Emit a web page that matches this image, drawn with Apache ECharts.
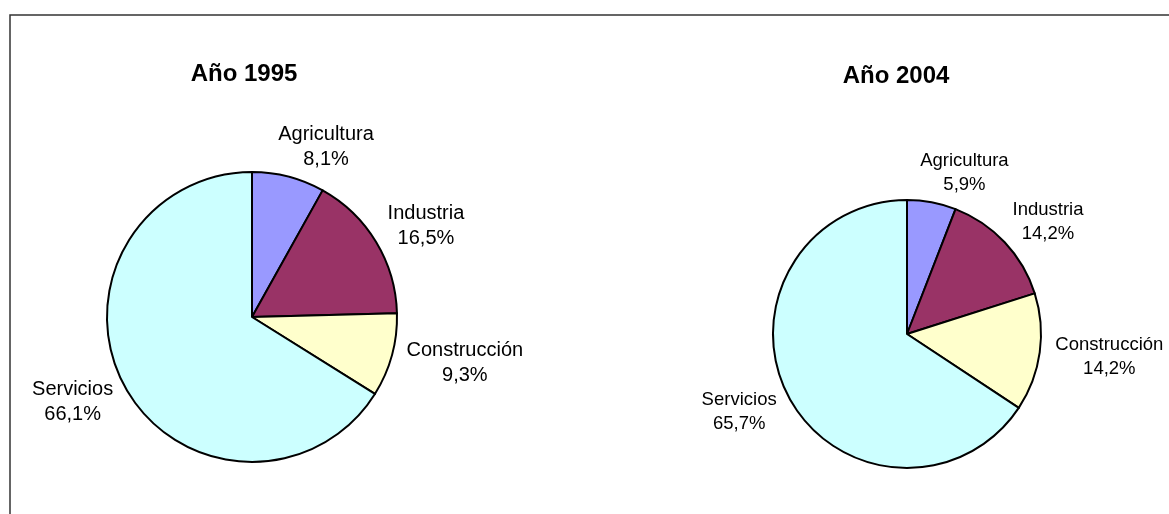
<!DOCTYPE html>
<html>
<head>
<meta charset="utf-8">
<script src="https://cdn.jsdelivr.net/npm/echarts@6/dist/echarts.min.js"></script>
<style>
  html, body { margin: 0; padding: 0; background: #fff; }
  #main { width: 1169px; height: 514px; }
</style>
</head>
<body>
<div id="main"></div>
<script>
var sectors = ['Agricultura', 'Industria', 'Construcción', 'Servicios'];
var colors = ['#9999FF', '#993366', '#FFFFCC', '#CCFFFF'];
var titles = ['Año 1995', 'Año 2004'];
var values1995 = [8.1, 16.5, 9.3, 66.1];
var values2004 = [5.9, 14.2, 14.2, 65.7];

var font = 'Arial, "Liberation Sans", sans-serif';

// pie geometry: centre x, centre y, radius
var pies = [
  {cx: 252, cy: 317, r: 145, fs: 20, lh: 25, values: values1995},
  {cx: 907, cy: 334, r: 134, fs: 18.5, lh: 24, values: values2004}
];

function fmt(v) {
  return v.toFixed(1).replace('.', ',') + '%';
}

// put the label box outside the slice, roughly the way Excel does it
function placeLabel(params) {
  var p = pies[params.seriesIndex];
  var vals = p.values;
  var total = 0, before = 0;
  for (var i = 0; i < vals.length; i++) {
    total += vals[i];
    if (i < params.dataIndex) before += vals[i];
  }
  var frac = (before + vals[params.dataIndex] / 2) / total;
  var a = frac * Math.PI * 2;
  var dx = Math.sin(a), dy = -Math.cos(a);
  var w = params.labelRect.width, h = params.labelRect.height;
  var gap = 16;
  var x = p.cx + dx * (p.r + gap) + (dx < 0 ? -1 : 1) * (w / 2) * (0.6 + 0.4 * Math.abs(dx));
  var y = p.cy + dy * (p.r + gap) + dy * (h / 2) * 0.6;
  return {x: x, y: y, align: 'center', verticalAlign: 'middle'};
}

var chart = echarts.init(document.getElementById('main'));

chart.setOption({
  animation: false,
  backgroundColor: '#fff',
  color: colors,
  graphic: [{
    type: 'rect',
    shape: {x: 10, y: 15, width: 1300, height: 700},
    style: {fill: 'none', stroke: '#333', lineWidth: 1.5},
    silent: true
  }],
  title: [
    {text: titles[0], left: 244, top: 62, textAlign: 'center', padding: 0,
      textStyle: {fontFamily: font, fontSize: 24, fontWeight: 'bold', color: '#000', lineHeight: 24}},
    {text: titles[1], left: 896, top: 64, textAlign: 'center', padding: 0,
      textStyle: {fontFamily: font, fontSize: 24, fontWeight: 'bold', color: '#000', lineHeight: 24}}
  ],
  series: pies.map(function (p, k) {
    return {
      type: 'pie',
      center: [p.cx, p.cy],
      radius: p.r,
      startAngle: 90,
      clockwise: true,
      avoidLabelOverlap: false,
      itemStyle: {borderColor: '#000', borderWidth: 2},
      label: {
        show: true,
        position: 'outside',
        fontFamily: font,
        fontSize: p.fs,
        lineHeight: p.lh,
        color: '#000',
        align: 'center',
        formatter: function (d) { return d.name + '\n' + fmt(d.value); }
      },
      labelLine: {show: false},
      labelLayout: placeLabel,
      emphasis: {disabled: true},
      data: sectors.map(function (s, i) {
        return {name: s, value: p.values[i]};
      })
    };
  })
});
</script>
</body>
</html>
